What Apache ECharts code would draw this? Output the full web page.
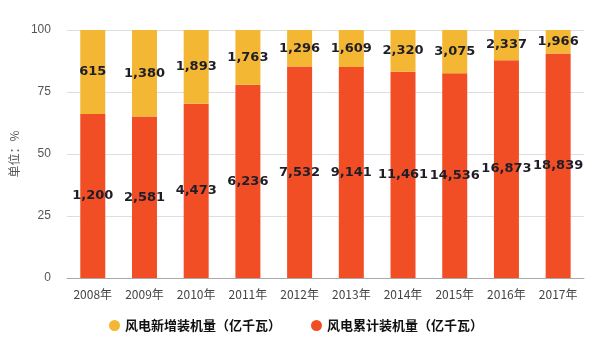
<!DOCTYPE html>
<html><head><meta charset="utf-8">
<script src="https://cdn.jsdelivr.net/npm/echarts@6/dist/echarts.min.js"></script>
<style>html,body{margin:0;padding:0;background:#fff}#c{width:592px;height:342px}</style>
</head><body><div id="c"></div>
<script>
const categories = ['2008年','2009年','2010年','2011年','2012年','2013年','2014年','2015年','2016年','2017年'];
const newInstalled = [615,1380,1893,1763,1296,1609,2320,3075,2337,1966];
const cumulative = [1200,2581,4473,6236,7532,9141,11461,14536,16873,18839];
const yTicks = [0,25,50,75,100];

const totals = categories.map((_, i) => newInstalled[i] + cumulative[i]);
const pct = (arr) => arr.map((v, i) => ({ value: v / totals[i] * 100, raw: v }));
const fmt = (p) => p.data.raw.toLocaleString('en-US');

const labelStyle = {
  show: true, position: 'inside', formatter: fmt,
  color: '#1e1e28', fontSize: 13, fontWeight: 'bold', fontFamily: 'DejaVu Sans'
};

const chart = echarts.init(document.getElementById('c'), null, { renderer: 'canvas' });
chart.setOption({
  animation: false,
  grid: { left: 64, right: 8, top: 30, bottom: 64 },
  legend: {
    bottom: 5, left: 'center', itemGap: 30, icon: 'circle', itemWidth: 11, itemHeight: 11,
    textStyle: { fontSize: 13, fontWeight: 'bold', color: '#111', fontFamily: 'Noto Sans CJK SC' },
    data: ['风电新增装机量（亿千瓦）', '风电累计装机量（亿千瓦）']
  },
  xAxis: {
    type: 'category', data: categories,
    axisLine: { lineStyle: { color: '#aaa' } }, axisTick: { show: false },
    axisLabel: { color: '#444', fontSize: 12, margin: 10, fontFamily: 'Noto Sans CJK SC' }
  },
  yAxis: {
    type: 'value', min: yTicks[0], max: yTicks[yTicks.length - 1], interval: 25,
    name: '单位：%', nameLocation: 'middle', nameRotate: 90, nameGap: 43,
    nameTextStyle: { color: '#555', fontSize: 12, fontFamily: 'Noto Sans CJK SC' },
    axisLine: { show: false }, axisTick: { show: false },
    axisLabel: { color: '#555', fontSize: 12, margin: 16 },
    splitLine: { lineStyle: { color: '#dedede' } }
  },
  series: [
    {
      name: '风电累计装机量（亿千瓦）', type: 'bar', stack: 's', barWidth: 25,
      data: pct(cumulative), itemStyle: { color: '#F24E25' }, label: labelStyle, z: 2
    },
    {
      name: '风电新增装机量（亿千瓦）', type: 'bar', stack: 's', barWidth: 25,
      data: pct(newInstalled), itemStyle: { color: '#F3B733' }, label: labelStyle, z: 2
    }
  ]
});
</script></body></html>
